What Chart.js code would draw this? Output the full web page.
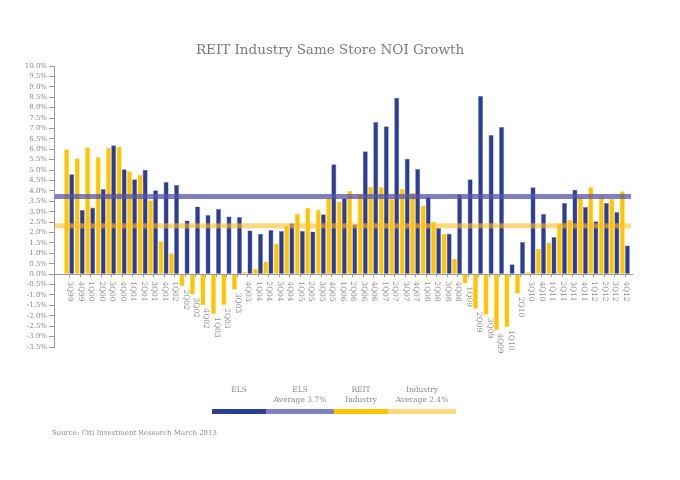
<!DOCTYPE html>
<html>
<head>
<meta charset="utf-8">
<script src="https://cdn.jsdelivr.net/npm/chart.js@4"></script>
<style>
  body { margin: 0; background: #fff; }
  #wrap { position: relative; width: 680px; height: 480px; font-family: "DejaVu Serif", serif; color: #8a8a8a; }
  #chart { position: absolute; left: 0; top: 0; }
  .title { position: absolute; left: 130px; width: 400px; top: 42px; text-align: center; font-size: 13.5px; line-height: 15px; color: #7a7a7a; }
  .lt { position: absolute; top: 385px; text-align: center; font-size: 7.5px; line-height: 10px; }
  .sw { position: absolute; top: 409px; height: 5px; }
  .src { position: absolute; left: 52px; top: 428px; font-size: 7px; line-height: 10px; }
</style>
</head>
<body>
<div id="wrap">
  <canvas id="chart" width="680" height="480"></canvas>
  <div class="title">REIT Industry Same Store NOI Growth</div>
  <div class="lt" style="left:212px;width:54px">ELS</div>
  <div class="lt" style="left:266px;width:68px">ELS<br>Average 3.7%</div>
  <div class="lt" style="left:334px;width:54px">REIT<br>Industry</div>
  <div class="lt" style="left:388px;width:68px">Industry<br>Average 2.4%</div>
  <div class="sw" style="left:212px;width:54px;background:#2c3e94"></div>
  <div class="sw" style="left:266px;width:68px;background:#8080c0"></div>
  <div class="sw" style="left:334px;width:54px;background:#ffc400"></div>
  <div class="sw" style="left:388px;width:68px;background:#ffd87e"></div>
  <div class="src">Source: Citi Investment Research March 2013</div>
</div>
<script>
const quarters = ['3Q99','4Q99','1Q00','2Q00','3Q00','4Q00','1Q01','2Q01','3Q01','4Q01',
  '1Q02','2Q02','3Q02','4Q02','1Q03','2Q03','3Q03','4Q03','1Q04','2Q04','3Q04','4Q04',
  '1Q05','2Q05','3Q05','4Q05','1Q06','2Q06','3Q06','4Q06','1Q07','2Q07','3Q07','4Q07',
  '1Q08','2Q08','3Q08','4Q08','1Q09','2Q09','3Q09','4Q09','1Q10','2Q10','3Q10','4Q10',
  '1Q11','2Q11','3Q11','4Q11','1Q12','2Q12','3Q12','4Q12'];

// REIT industry same store NOI growth (%)
const reit = [6.0,5.57,6.1,5.63,6.06,6.13,4.94,4.78,3.55,1.58,1.0,-0.59,-0.98,-1.5,-1.92,-1.49,-0.75,
  0.11,0.27,0.61,1.47,2.34,2.91,3.18,3.1,3.65,3.49,4.0,3.84,4.19,4.19,3.63,4.1,3.9,3.3,2.51,1.94,0.74,
  -0.45,-1.66,-1.95,-2.69,-2.54,-0.94,0.1,1.22,1.52,2.45,2.62,3.7,4.19,3.7,3.62,3.98];

// ELS same store NOI growth (%)
const els = [4.8,3.09,3.2,4.1,6.19,5.04,4.56,5.02,4.03,4.43,4.29,2.58,3.25,2.85,3.14,2.77,2.74,
  2.1,1.94,2.13,2.08,2.45,2.08,2.05,2.88,5.28,3.65,2.4,5.9,7.31,7.1,8.48,5.55,5.06,3.71,2.22,1.95,3.84,
  4.56,8.56,6.69,7.07,0.48,1.54,4.18,2.9,1.78,3.42,4.06,3.23,2.54,3.42,2.98,1.38];

const elsAvg = 3.73;
const industryAvg = 2.32;

const AXIS = '#9a9a9a';
const TEXT = '#8a8a8a';

// average bands, tick marks and quarter labels hanging under each group
const extras = {
  id: 'extras',
  afterDatasetsDraw(chart) {
    const { ctx, chartArea, scales: { x, y } } = chart;
    ctx.save();
    [[elsAvg, 'rgba(85,85,170,0.75)'], [industryAvg, 'rgba(255,190,40,0.6)']].forEach(([v, c]) => {
      const py = y.getPixelForValue(v);
      ctx.fillStyle = c;
      ctx.fillRect(chartArea.left + 1, py - 2.5, chartArea.right - chartArea.left - 3, 5);
    });

    const y0 = y.getPixelForValue(0);
    ctx.strokeStyle = AXIS;
    ctx.lineWidth = 1;
    ctx.fillStyle = TEXT;
    ctx.font = '7.5px "DejaVu Serif"';
    ctx.textAlign = 'left';
    ctx.textBaseline = 'middle';
    quarters.forEach((q, i) => {
      const px = Math.round(x.getPixelForValue(i)) + 0.5;
      ctx.beginPath();
      ctx.moveTo(px, y0);
      ctx.lineTo(px, y0 + 3);
      ctx.stroke();
      const low = y.getPixelForValue(Math.min(0, reit[i], els[i]));
      const top = Math.max(y0 + 7, low + 3);
      ctx.save();
      ctx.translate(px, top);
      ctx.rotate(Math.PI / 2);
      ctx.fillText(q, 0, 0);
      ctx.restore();
    });
    ctx.restore();
  }
};

new Chart(document.getElementById('chart'), {
  type: 'bar',
  data: {
    datasets: [
      { label: 'REIT Industry', data: reit.map((v, i) => ({ x: i, y: v })), backgroundColor: '#ffc400',
        borderColor: '#ffd54a', borderWidth: 0.6 },
      { label: 'ELS', data: els.map((v, i) => ({ x: i, y: v })), backgroundColor: '#2c3e94',
        borderColor: '#7986c4', borderWidth: 0.6 }
    ]
  },
  options: {
    responsive: false,
    animation: false,
    categoryPercentage: 0.97,
    barPercentage: 1,
    layout: { padding: { top: 66, bottom: 133, left: 0, right: 47 } },
    plugins: { legend: { display: false }, tooltip: { enabled: false } },
    scales: {
      x: { type: 'linear', min: -1.45, max: 53.78, offset: false, display: false },
      y: {
        min: -3.5, max: 10,
        afterFit(scale) { scale.width = 54; },
        border: { color: AXIS, width: 1 },
        grid: {
          color: c => (c.tick && Math.abs(c.tick.value) < 1e-9) ? AXIS : 'rgba(0,0,0,0)',
          tickColor: AXIS, tickLength: 5
        },
        ticks: {
          stepSize: 0.5, autoSkip: false, padding: 2, color: TEXT,
          font: { family: '"DejaVu Serif"', size: 7 },
          callback: v => v.toFixed(1) + '%'
        }
      }
    }
  },
  plugins: [extras]
});
</script>
</body>
</html>
